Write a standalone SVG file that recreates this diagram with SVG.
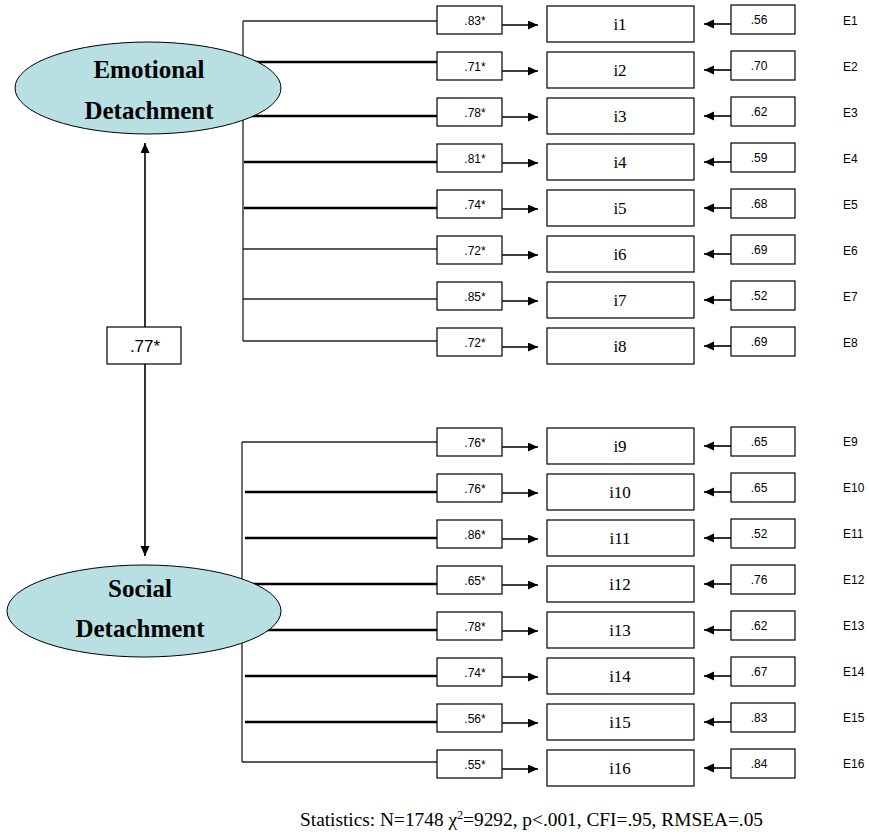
<svg xmlns="http://www.w3.org/2000/svg" width="869" height="834" viewBox="0 0 869 834">
<style>
.box{fill:#fff;stroke:#000;stroke-width:1.2}
.lat{fill:#b8dfe2;stroke:#000;stroke-width:1}
.thin{stroke:#222;stroke-width:1.3;fill:none}
.thick{stroke:#000;stroke-width:2.6;fill:none}
.arr{stroke:#000;stroke-width:1.6;fill:none}
.lt{font-family:"Liberation Sans",Arial,sans-serif;font-size:12px;text-anchor:middle}
.it{font-family:"Liberation Serif","Times New Roman",serif;font-size:17px;text-anchor:middle}
.el{font-family:"Liberation Sans",Arial,sans-serif;font-size:12px;text-anchor:start}
.ln{font-family:"Liberation Serif","Times New Roman",serif;font-size:25px;font-weight:bold;text-anchor:middle}
</style>
<defs>
<marker id="ah" markerUnits="userSpaceOnUse" markerWidth="12" markerHeight="10" refX="10" refY="4.5" orient="auto">
<path d="M0,0 L10,4.5 L0,9 Z" fill="#000"/>
</marker>
</defs>
<g id="connectors">
<line class="thin" x1="243" y1="21" x2="243" y2="341"/>
<line class="thin" x1="243" y1="21" x2="437" y2="21"/>
<line class="thick" x1="245" y1="62" x2="437" y2="62"/>
<line class="thick" x1="245" y1="116" x2="437" y2="116"/>
<line class="thick" x1="244" y1="162" x2="437" y2="162"/>
<line class="thick" x1="244" y1="208" x2="437" y2="208"/>
<line class="thin" x1="243" y1="249" x2="437" y2="249"/>
<line class="thin" x1="243" y1="299" x2="437" y2="299"/>
<line class="thin" x1="243" y1="341" x2="437" y2="341"/>
<line class="thin" x1="242" y1="442" x2="242" y2="762"/>
<line class="thin" x1="242" y1="442" x2="437" y2="442"/>
<line class="thick" x1="245" y1="492" x2="437" y2="492"/>
<line class="thick" x1="245" y1="538" x2="437" y2="538"/>
<line class="thick" x1="245" y1="584" x2="437" y2="584"/>
<line class="thick" x1="245" y1="630" x2="437" y2="630"/>
<line class="thick" x1="245" y1="676" x2="437" y2="676"/>
<line class="thick" x1="245" y1="722" x2="437" y2="722"/>
<line class="thin" x1="242" y1="762" x2="437" y2="762"/>
<line class="arr" x1="145" y1="327" x2="145" y2="143" marker-end="url(#ah)"/>
<line class="arr" x1="145" y1="364" x2="145" y2="556" marker-end="url(#ah)"/>
<g id="load-arrows">
<line class="arr" x1="502" y1="25" x2="538" y2="25" marker-end="url(#ah)"/>
<line class="arr" x1="502" y1="71" x2="538" y2="71" marker-end="url(#ah)"/>
<line class="arr" x1="502" y1="117" x2="538" y2="117" marker-end="url(#ah)"/>
<line class="arr" x1="502" y1="163" x2="538" y2="163" marker-end="url(#ah)"/>
<line class="arr" x1="502" y1="209" x2="538" y2="209" marker-end="url(#ah)"/>
<line class="arr" x1="502" y1="255" x2="538" y2="255" marker-end="url(#ah)"/>
<line class="arr" x1="502" y1="301" x2="538" y2="301" marker-end="url(#ah)"/>
<line class="arr" x1="502" y1="347" x2="538" y2="347" marker-end="url(#ah)"/>
<line class="arr" x1="502" y1="447" x2="538" y2="447" marker-end="url(#ah)"/>
<line class="arr" x1="502" y1="493" x2="538" y2="493" marker-end="url(#ah)"/>
<line class="arr" x1="502" y1="539" x2="538" y2="539" marker-end="url(#ah)"/>
<line class="arr" x1="502" y1="585" x2="538" y2="585" marker-end="url(#ah)"/>
<line class="arr" x1="502" y1="631" x2="538" y2="631" marker-end="url(#ah)"/>
<line class="arr" x1="502" y1="677" x2="538" y2="677" marker-end="url(#ah)"/>
<line class="arr" x1="502" y1="723" x2="538" y2="723" marker-end="url(#ah)"/>
<line class="arr" x1="502" y1="769" x2="538" y2="769" marker-end="url(#ah)"/>
</g>
<g id="err-arrows">
<line class="arr" x1="731" y1="24" x2="704" y2="24" marker-end="url(#ah)"/>
<line class="arr" x1="731" y1="70" x2="704" y2="70" marker-end="url(#ah)"/>
<line class="arr" x1="731" y1="116" x2="704" y2="116" marker-end="url(#ah)"/>
<line class="arr" x1="731" y1="162" x2="704" y2="162" marker-end="url(#ah)"/>
<line class="arr" x1="731" y1="208" x2="704" y2="208" marker-end="url(#ah)"/>
<line class="arr" x1="731" y1="254" x2="704" y2="254" marker-end="url(#ah)"/>
<line class="arr" x1="731" y1="300" x2="704" y2="300" marker-end="url(#ah)"/>
<line class="arr" x1="731" y1="346" x2="704" y2="346" marker-end="url(#ah)"/>
<line class="arr" x1="731" y1="446" x2="704" y2="446" marker-end="url(#ah)"/>
<line class="arr" x1="731" y1="492" x2="704" y2="492" marker-end="url(#ah)"/>
<line class="arr" x1="731" y1="538" x2="704" y2="538" marker-end="url(#ah)"/>
<line class="arr" x1="731" y1="584" x2="704" y2="584" marker-end="url(#ah)"/>
<line class="arr" x1="731" y1="630" x2="704" y2="630" marker-end="url(#ah)"/>
<line class="arr" x1="731" y1="676" x2="704" y2="676" marker-end="url(#ah)"/>
<line class="arr" x1="731" y1="722" x2="704" y2="722" marker-end="url(#ah)"/>
<line class="arr" x1="731" y1="768" x2="704" y2="768" marker-end="url(#ah)"/>
</g>
</g>
<g id="emotional">
<ellipse class="lat" cx="148" cy="88" rx="133" ry="46"/>
<text class="ln" x="149" y="78">Emotional</text>
<text class="ln" x="149" y="119">Detachment</text>
</g>
<g id="social">
<ellipse class="lat" cx="144" cy="611" rx="137" ry="46"/>
<text class="ln" x="140" y="597">Social</text>
<text class="ln" x="140" y="637">Detachment</text>
</g>
<g id="corr">
<rect class="box" x="107" y="327" width="74" height="37"/>
<text x="145" y="352" style="font-family:'Liberation Sans',Arial,sans-serif;font-size:17px;text-anchor:middle">.77*</text>
</g>
<g id="loadings">
<g id="L1"><rect class="box" x="437" y="6" width="65" height="28"/><text class="lt" x="475" y="25">.83*</text></g>
<g id="L2"><rect class="box" x="437" y="52" width="65" height="28"/><text class="lt" x="475" y="71">.71*</text></g>
<g id="L3"><rect class="box" x="437" y="98" width="65" height="28"/><text class="lt" x="475" y="117">.78*</text></g>
<g id="L4"><rect class="box" x="437" y="144" width="65" height="28"/><text class="lt" x="475" y="163">.81*</text></g>
<g id="L5"><rect class="box" x="437" y="190" width="65" height="28"/><text class="lt" x="475" y="209">.74*</text></g>
<g id="L6"><rect class="box" x="437" y="236" width="65" height="28"/><text class="lt" x="475" y="255">.72*</text></g>
<g id="L7"><rect class="box" x="437" y="282" width="65" height="28"/><text class="lt" x="475" y="301">.85*</text></g>
<g id="L8"><rect class="box" x="437" y="328" width="65" height="28"/><text class="lt" x="475" y="347">.72*</text></g>
<g id="L9"><rect class="box" x="437" y="428" width="65" height="28"/><text class="lt" x="475" y="447">.76*</text></g>
<g id="L10"><rect class="box" x="437" y="474" width="65" height="28"/><text class="lt" x="475" y="493">.76*</text></g>
<g id="L11"><rect class="box" x="437" y="520" width="65" height="28"/><text class="lt" x="475" y="539">.86*</text></g>
<g id="L12"><rect class="box" x="437" y="566" width="65" height="28"/><text class="lt" x="475" y="585">.65*</text></g>
<g id="L13"><rect class="box" x="437" y="612" width="65" height="28"/><text class="lt" x="475" y="631">.78*</text></g>
<g id="L14"><rect class="box" x="437" y="658" width="65" height="28"/><text class="lt" x="475" y="677">.74*</text></g>
<g id="L15"><rect class="box" x="437" y="704" width="65" height="28"/><text class="lt" x="475" y="723">.56*</text></g>
<g id="L16"><rect class="box" x="437" y="750" width="65" height="28"/><text class="lt" x="475" y="769">.55*</text></g>
</g>
<g id="items">
<g id="i1"><rect class="box" x="547" y="6" width="147" height="36"/><text class="it" x="620" y="30">i1</text></g>
<g id="i2"><rect class="box" x="547" y="52" width="147" height="36"/><text class="it" x="620" y="76">i2</text></g>
<g id="i3"><rect class="box" x="547" y="98" width="147" height="36"/><text class="it" x="620" y="122">i3</text></g>
<g id="i4"><rect class="box" x="547" y="144" width="147" height="36"/><text class="it" x="620" y="168">i4</text></g>
<g id="i5"><rect class="box" x="547" y="190" width="147" height="36"/><text class="it" x="620" y="214">i5</text></g>
<g id="i6"><rect class="box" x="547" y="236" width="147" height="36"/><text class="it" x="620" y="260">i6</text></g>
<g id="i7"><rect class="box" x="547" y="282" width="147" height="36"/><text class="it" x="620" y="306">i7</text></g>
<g id="i8"><rect class="box" x="547" y="328" width="147" height="36"/><text class="it" x="620" y="352">i8</text></g>
<g id="i9"><rect class="box" x="547" y="428" width="147" height="36"/><text class="it" x="620" y="452">i9</text></g>
<g id="i10"><rect class="box" x="547" y="474" width="147" height="36"/><text class="it" x="620" y="498">i10</text></g>
<g id="i11"><rect class="box" x="547" y="520" width="147" height="36"/><text class="it" x="620" y="544">i11</text></g>
<g id="i12"><rect class="box" x="547" y="566" width="147" height="36"/><text class="it" x="620" y="590">i12</text></g>
<g id="i13"><rect class="box" x="547" y="612" width="147" height="36"/><text class="it" x="620" y="636">i13</text></g>
<g id="i14"><rect class="box" x="547" y="658" width="147" height="36"/><text class="it" x="620" y="682">i14</text></g>
<g id="i15"><rect class="box" x="547" y="704" width="147" height="36"/><text class="it" x="620" y="728">i15</text></g>
<g id="i16"><rect class="box" x="547" y="750" width="147" height="36"/><text class="it" x="620" y="774">i16</text></g>
</g>
<g id="errors">
<g id="e1"><rect class="box" x="731" y="5" width="64" height="29"/><text class="lt" x="759" y="24">.56</text><text class="el" x="843" y="25">E1</text></g>
<g id="e2"><rect class="box" x="731" y="51" width="64" height="29"/><text class="lt" x="759" y="70">.70</text><text class="el" x="843" y="71">E2</text></g>
<g id="e3"><rect class="box" x="731" y="97" width="64" height="29"/><text class="lt" x="759" y="116">.62</text><text class="el" x="843" y="117">E3</text></g>
<g id="e4"><rect class="box" x="731" y="143" width="64" height="29"/><text class="lt" x="759" y="162">.59</text><text class="el" x="843" y="163">E4</text></g>
<g id="e5"><rect class="box" x="731" y="189" width="64" height="29"/><text class="lt" x="759" y="208">.68</text><text class="el" x="843" y="209">E5</text></g>
<g id="e6"><rect class="box" x="731" y="235" width="64" height="29"/><text class="lt" x="759" y="254">.69</text><text class="el" x="843" y="255">E6</text></g>
<g id="e7"><rect class="box" x="731" y="281" width="64" height="29"/><text class="lt" x="759" y="300">.52</text><text class="el" x="843" y="301">E7</text></g>
<g id="e8"><rect class="box" x="731" y="327" width="64" height="29"/><text class="lt" x="759" y="346">.69</text><text class="el" x="843" y="347">E8</text></g>
<g id="e9"><rect class="box" x="731" y="427" width="64" height="29"/><text class="lt" x="759" y="446">.65</text><text class="el" x="843" y="446">E9</text></g>
<g id="e10"><rect class="box" x="731" y="473" width="64" height="29"/><text class="lt" x="759" y="492">.65</text><text class="el" x="843" y="492">E10</text></g>
<g id="e11"><rect class="box" x="731" y="519" width="64" height="29"/><text class="lt" x="759" y="538">.52</text><text class="el" x="843" y="538">E11</text></g>
<g id="e12"><rect class="box" x="731" y="565" width="64" height="29"/><text class="lt" x="759" y="584">.76</text><text class="el" x="843" y="584">E12</text></g>
<g id="e13"><rect class="box" x="731" y="611" width="64" height="29"/><text class="lt" x="759" y="630">.62</text><text class="el" x="843" y="630">E13</text></g>
<g id="e14"><rect class="box" x="731" y="657" width="64" height="29"/><text class="lt" x="759" y="676">.67</text><text class="el" x="843" y="676">E14</text></g>
<g id="e15"><rect class="box" x="731" y="703" width="64" height="29"/><text class="lt" x="759" y="722">.83</text><text class="el" x="843" y="722">E15</text></g>
<g id="e16"><rect class="box" x="731" y="749" width="64" height="29"/><text class="lt" x="759" y="768">.84</text><text class="el" x="843" y="768">E16</text></g>
</g>
<text x="300" y="826" textLength="463" lengthAdjust="spacingAndGlyphs" style="font-family:'Liberation Serif','Times New Roman',serif;font-size:19px">Statistics: N=1748 χ<tspan font-size="12" dy="-7">2</tspan><tspan dy="7">=9292, p&lt;.001, CFI=.95, RMSEA=.05</tspan></text>
</svg>
